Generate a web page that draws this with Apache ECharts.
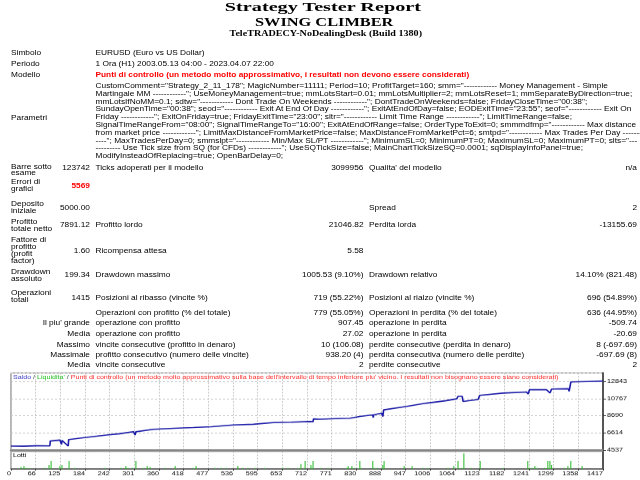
<!DOCTYPE html>
<html><head><meta charset="utf-8">
<script src="https://cdn.jsdelivr.net/npm/echarts@6/dist/echarts.min.js"></script>
<style>
html,body{margin:0;padding:0;background:#fff;overflow:hidden;width:640px;height:480px;}
#wrap{position:absolute;left:0;top:0;width:640px;height:608px;transform:scale(1,0.789474);transform-origin:0 0;}
.t{position:absolute;white-space:nowrap;}
</style></head>
<body><div id="wrap"></div>
<script>
// ---------- data ----------
const reportTitle = 'Strategy Tester Report';
const expertName = 'SWING CLIMBER';
const serverName = 'TeleTRADECY-NoDealingDesk (Build 1380)';
const infoLabels = ['Simbolo', 'Periodo', 'Modello', 'Parametri'];
const infoValues = ['EURUSD (Euro vs US Dollar)', '1 Ora (H1) 2003.05.13 04:00 - 2023.04.07 22:00',
  'Punti di controllo (un metodo molto approssimativo, i resultati non devono essere considerati)'];
const paramLines = [
  'CustomComment="Strategy_2_11_178"; MagicNumber=11111; Period=10; ProfitTarget=160; smm="------------ Money Management - Simple',
  'Martingale MM ------------"; UseMoneyManagement=true; mmLotsStart=0.01; mmLotsMultiplier=2; mmLotsReset=1; mmSeparateByDirection=true;',
  'mmLotsIfNoMM=0.1; sdtw="------------ Dont Trade On Weekends ------------"; DontTradeOnWeekends=false; FridayCloseTime="00:38";',
  'SundayOpenTime="00:38"; seod="------------ Exit At End Of Day ------------"; ExitAtEndOfDay=false; EODExitTime="23:55"; seof="------------ Exit On',
  'Friday ------------"; ExitOnFriday=true; FridayExitTime="23:00"; sltr="------------ Limit Time Range ------------"; LimitTimeRange=false;',
  'SignalTimeRangeFrom="08:00"; SignalTimeRangeTo="16:00"; ExitAtEndOfRange=false; OrderTypeToExit=0; smmmdfmp="------------ Max distance',
  'from market price ------------"; LimitMaxDistanceFromMarketPrice=false; MaxDistanceFromMarketPct=6; smtpd="------------ Max Trades Per Day ------------',
  '----"; MaxTradesPerDay=0; smmslpt="------------ Min/Max SL/PT ------------"; MinimumSL=0; MinimumPT=0; MaximumSL=0; MaximumPT=0; slts="---',
  '--------- Use Tick size from SQ (for CFDs) ------------"; UseSQTickSize=false; MainChartTickSizeSQ=0.0001; sqDisplayInfoPanel=true;',
  'ModifyInsteadOfReplacing=true; OpenBarDelay=0;'
];
const statLabels = [['Barre sotto','esame'],['Errori di','grafici'],['Deposito','iniziale'],['Profitto','totale netto'],
  ['Fattore di','profitto','(profit','factor)'],['Drawdown','assoluto'],['Operazioni','totali'],[],
  ["Il piu' grande"],['Media'],['Massimo'],['Massimale'],['Media']];
const statValue1 = ['123742','5569','5000.00','7891.12','1.60','199.34','1415','','','','','',''];
const statLabel2 = ['Ticks adoperati per il modello','','','Profitto lordo','Ricompensa attesa','Drawdown massimo',
  'Posizioni al ribasso (vincite %)','Operazioni con profitto (% del totale)','operazione con profitto','operazione con profitto',
  'vincite consecutive (profitto in denaro)','profitto consecutivo (numero delle vincite)','vincite consecutive'];
const statValue2 = ['3099956','','','21046.82','5.58','1005.53 (9.10%)','719 (55.22%)','779 (55.05%)','907.45','27.02',
  '10 (106.08)','938.20 (4)','2'];
const statLabel3 = ["Qualita' del modello",'','Spread','Perdita lorda','','Drawdown relativo','Posizioni al rialzo (vincite %)',
  'Operazioni in perdita (% del totale)','operazione in perdita','operazione in perdita','perdite consecutive (perdita in denaro)',
  'perdita consecutiva (numero delle perdite)','perdite consecutive'];
const statValue3 = ['n/a','','2','-13155.69','','14.10% (821.48)','696 (54.89%)','636 (44.95%)','-509.74','-20.69',
  '8 (-697.69)','-697.69 (8)','2'];

const legendParts = ['Saldo', "Liquidita'", "Punti di controllo (un metodo molto approssimativo sulla base dell'intervallo di tempo inferiore piu' vicino. I resultati non bisognano essere siano considerati)"];
const lotsLabel = 'Lotti';
const tradeMax = 1417;
const xTickLabels = ['0','66','125','184','242','301','360','418','477','536','595','653','712','771','830','888','947','1006','1064','1123','1182','1241','1299','1358','1417'];
const balanceTrade = [0,30,60,93,94,117,121,122,137,138,141,180,229,260,293,297,299,341,389,436,480,532,580,628,670,716,723,724,740,790,811,812,835,866,867,868,887,890,892,947,995,1040,1067,1070,1080,1082,1118,1122,1178,1234,1238,1241,1282,1290,1294,1334,1336,1340,1380,1417];
const balance = [5000,4990,5040,5030,5612,5734,5209,5700,5001,5800,5856,6050,6345,6500,6760,6345,6740,7041,7163,7249,7350,7566,7650,7860,7900,7981,7950,8299,8261,8350,8384,8261,8591,8787,8469,8790,8994,8591,9397,9813,10216,10500,10741,11034,11034,10423,10650,11156,11437,11560,11315,11840,11840,11437,11926,11963,11645,12781,12840,12891];
const lotTrade = [24,31,36,43,81,91,96,117,122,139,153,225,263,275,280,290,299,316,326,333,369,393,436,443,488,503,515,543,555,567,584,608,651,663,687,694,704,718,723,742,759,804,807,816,823,835,838,866,871,878,890,893,941,960,986,998,1046,1060,1070,1079,1084,1101,1123,1178,1237,1242,1247,1254,1259,1278,1285,1290,1294,1324,1333,1340,1367];
const lotSize = [0.1,0.15,0.05,0.05,0.05,0.2,0.4,0.15,0.2,0.4,0.05,0.05,0.05,0.15,0.05,0.05,0.4,0.05,0.15,0.1,0.05,0.15,0.05,0.15,0.05,0.05,0.05,0.15,0.05,0.05,0.05,0.05,0.05,0.05,0.05,0.25,0.4,0.2,0.4,0.05,0.05,0.05,0.15,0.15,0.05,0.4,0.05,0.4,0.05,0.05,0.2,0.4,0.15,0.15,0.05,0.05,0.05,0.15,0.4,0.05,0.8,0.05,0.4,0.05,0.4,0.05,0.05,0.15,0.05,0.05,0.4,0.4,0.2,0.05,0.15,0.4,0.15];
const yTickStart = 4537, yTickStep = 2076.5;

// ---------- layout ----------
const SY = 480 / 608;
const wrap = document.getElementById('wrap');
const mctx = document.createElement('canvas').getContext('2d');
function measure(text, font) { mctx.font = font; return mctx.measureText(text).width; }
const SANS = '"Liberation Sans", Arial, sans-serif';
const SERIF = '"Liberation Serif", "Times New Roman", serif';
const bodyFs = 10 * 513 / measure(paramLines[0], '10px ' + SANS);

function put(text, x, yc, o) {
  o = o || {};
  const fam = o.fam || SANS;
  const wt = o.bold ? 'bold ' : '';
  let fs = o.fs || bodyFs;
  if (o.fitW) fs = 10 * o.fitW / measure(text, wt + '10px ' + fam);
  const el = document.createElement('div');
  el.className = 't';
  el.textContent = text;
  el.style.font = wt + fs + 'px ' + fam;
  el.style.lineHeight = fs + 'px';
  el.style.color = o.color || '#000';
  const top = (o.base != null) ? o.base / SY - 0.8375 * fs : yc / SY - 0.4885 * fs;
  el.style.top = top + 'px';
  if (o.capObs) {
    const k = o.capObs / (0.662 * fs * SY);
    el.style.transformOrigin = '50% ' + (0.8375 * fs) + 'px';
    el.style.transform = 'scaleY(' + k + ')';
  }
  const align = o.align || 'left';
  if (align === 'left') el.style.left = x + 'px';
  else if (align === 'right') el.style.right = (640 - x) + 'px';
  else el.style.left = (x - measure(text, wt + fs + 'px ' + fam) / 2) + 'px';
  wrap.appendChild(el);
}

put(reportTitle, 323.3, 0, {fam: SERIF, bold: true, fitW: 197, align: 'center', base: 11.2, capObs: 8.4});
put(expertName, 324.2, 0, {fam: SERIF, bold: true, fitW: 138.4, align: 'center', base: 26.7, capObs: 8.4});
put(serverName, 325.8, 0, {fam: SERIF, bold: true, fitW: 192.5, align: 'center', base: 35.6, capObs: 5.2});

const COL = {l1: 11, v1: 90, l2: 95.5, v2: 363.5, l3: 369, v3: 637};
const infoY = [53, 64, 75, 118];
infoLabels.forEach((t, i) => put(t, COL.l1, infoY[i]));
put(infoValues[0], COL.l2, infoY[0]);
put(infoValues[1], COL.l2, infoY[1]);
put(infoValues[2], COL.l2, infoY[2], {bold: true, color: '#ff0000'});
paramLines.forEach((t, i) => put(t, COL.l2, 86 + 7.75 * i));

const rowLabelY = [169.8, 185.3, 207.5, 225, 250, 275, 296.7, 312.7, 323.2, 333.5, 344, 354.5, 365];
const rowValueY = [167.3, 185.3, 208, 225.3, 250.7, 275, 297.5, 312.7, 323.2, 333.5, 344, 354.5, 365];
statLabels.forEach((lines, i) => {
  const n = lines.length;
  lines.forEach((t, j) => {
    const y = rowLabelY[i] + (j - (n - 1) / 2) * 7;
    if (i >= 8) put(t, COL.v1, y, {align: 'right'});
    else put(t, COL.l1, y);
  });
  const yv = rowValueY[i];
  if (statValue1[i]) put(statValue1[i], COL.v1, yv, i === 1 ? {align: 'right', bold: true, color: '#ff0000'} : {align: 'right'});
  if (statLabel2[i]) put(statLabel2[i], COL.l2, yv);
  if (statValue2[i]) put(statValue2[i], COL.v2, yv, {align: 'right'});
  if (statLabel3[i]) put(statLabel3[i], COL.l3, yv);
  if (statValue3[i]) put(statValue3[i], COL.v3, yv, {align: 'right'});
});

// ---------- chart ----------
const CH_TOP = 368, CH_H = 112;
const cdiv = document.createElement('div');
cdiv.style.cssText = 'position:absolute;left:0;top:' + (CH_TOP / SY) + 'px;width:640px;height:' + (CH_H / SY) + 'px;';
wrap.appendChild(cdiv);
const cy = o => (o - CH_TOP) / SY;

const legendText = legendParts[0] + ' / ' + legendParts[1] + ' / ' + legendParts[2];
const legFs = 10 * 546 / measure(legendText, '10px ' + SANS);
const axFs = 7.2;
const xStep = tradeMax / 24;

const balanceData = balanceTrade.map((t, i) => [t, balance[i]]);
const lotData = lotTrade.map((t, i) => [t, lotSize[i]]);
const dash = {color: '#c4c4c4', type: [2, 2], width: 1};

const chart = echarts.init(cdiv, null, {renderer: 'canvas'});
chart.setOption({
  animation: false,
  textStyle: {fontFamily: SANS},
  title: [{
    left: 13, top: cy(378) - legFs * 0.6, padding: 0,
    text: '{b|' + legendParts[0] + '}{s| / }{g|' + legendParts[1] + '}{s| / }{r|' + legendParts[2] + '}',
    textStyle: {fontSize: legFs, fontWeight: 'normal', rich: {
      b: {color: '#3a3ac8', fontSize: legFs, fontFamily: SANS},
      s: {color: '#444', fontSize: legFs, fontFamily: SANS},
      g: {color: '#22c022', fontSize: legFs, fontFamily: SANS},
      r: {color: '#ff2a2a', fontSize: legFs, fontFamily: SANS}
    }}
  }, {
    left: 13, top: cy(456) - 4, padding: 0, text: lotsLabel,
    textStyle: {fontSize: 7, fontWeight: 'normal', color: '#000', fontFamily: SANS}
  }],
  grid: [
    {left: 11, right: 37, top: cy(373), height: cy(450) - cy(373), show: true, borderColor: '#6a6a6a', borderWidth: 1, outerBoundsMode: 'none'},
    {left: 11, right: 37, top: cy(451.5), height: cy(469) - cy(451.5), show: true, borderColor: '#6a6a6a', borderWidth: 1, outerBoundsMode: 'none'}
  ],
  xAxis: [
    {gridIndex: 0, type: 'value', min: 0, max: tradeMax, interval: xStep,
     axisLabel: {show: false}, axisTick: {show: false},
     axisLine: {show: true, onZero: false, lineStyle: {color: '#858585', width: 2.5}},
     splitLine: {show: true, lineStyle: dash}},
    {gridIndex: 1, type: 'value', min: 0, max: tradeMax, interval: xStep,
     axisLabel: {show: true, fontSize: axFs, color: '#000', margin: 3, align: 'right',
       showMinLabel: true, showMaxLabel: true,
       formatter: v => xTickLabels[Math.round(v / xStep)] || ''},
     axisTick: {show: true, length: 2, lineStyle: {color: '#333'}},
     axisLine: {show: true, onZero: false, lineStyle: {color: '#555', width: 1.5}},
     splitLine: {show: true, lineStyle: dash}}
  ],
  yAxis: [
    {gridIndex: 0, type: 'value', position: 'right', min: yTickStart, max: 13881, interval: yTickStep,
     axisLabel: {show: true, fontSize: axFs, color: '#000', margin: 4, showMaxLabel: false,
       formatter: v => String(Math.round(v))},
     axisTick: {show: true, length: 3, lineStyle: {color: '#333'}},
     axisLine: {show: true, onZero: false, lineStyle: {color: '#555', width: 2}},
     splitLine: {show: true, lineStyle: dash}},
    {gridIndex: 1, type: 'value', position: 'right', min: 0, max: 0.9,
     axisLabel: {show: false}, axisTick: {show: false}, splitLine: {show: false},
     axisLine: {show: true, onZero: false, lineStyle: {color: '#555', width: 2}}}
  ],
  series: [
    {type: 'line', xAxisIndex: 0, yAxisIndex: 0, data: balanceData, symbol: 'none',
     lineStyle: {color: '#1c1ca8', width: 1.6}},
    {type: 'bar', xAxisIndex: 1, yAxisIndex: 1, data: lotData, barWidth: 1,
     itemStyle: {color: '#25b825'}}
  ]
});
</script>
</body></html>
